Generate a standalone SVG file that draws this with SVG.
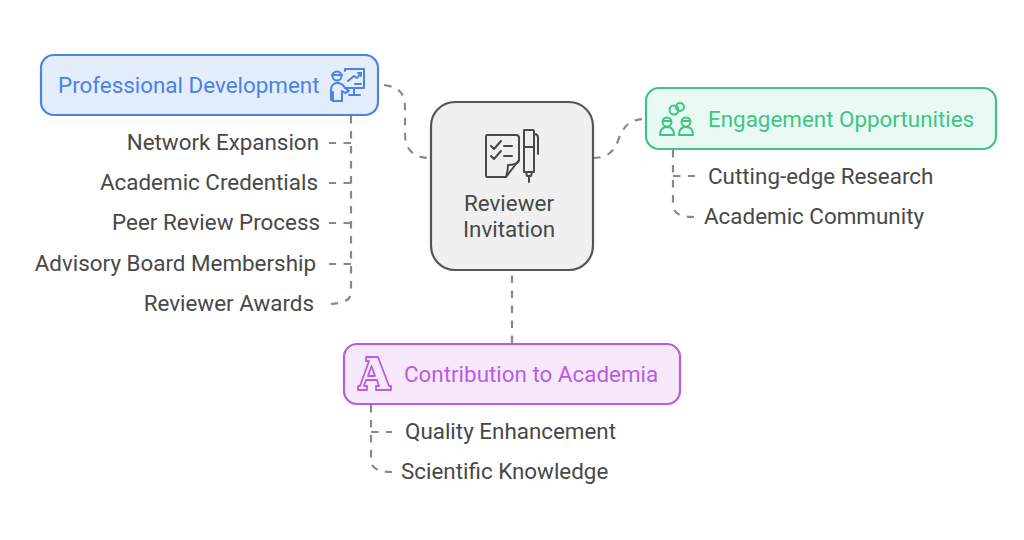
<svg xmlns="http://www.w3.org/2000/svg" width="1024" height="540" viewBox="0 0 1024 540">
<style>
text{font-family:Roboto,"Liberation Sans",sans-serif;font-size:22.4px}
.lab{fill:#484848}
.end{text-anchor:end}
.box{stroke-width:2.2}
.ic{fill:none;stroke-width:2;stroke-linecap:round;stroke-linejoin:round}
#connectors path{fill:none;stroke:#888;stroke-width:2.2;stroke-dasharray:7.5 7.5}
</style>
<rect width="1024" height="540" fill="#fff"/>
<g id="connectors">
<path d="M384 85C398 87 405 92 405 108V134C405 150 414 158 431 158"/>
<path d="M593 158C606 158 613 153 618 141C623 126 630 119 645 119"/>
<path d="M512 343V270"/>
<path d="M351 116V292C351 299 346 303 331 304"/>
<path d="M351 143H329"/>
<path d="M351 183H329"/>
<path d="M351 223H329"/>
<path d="M351 264H329"/>
<path d="M673 150V205C673 213 680 217 694 217"/>
<path d="M673 176H695"/>
<path d="M371 405V460C371 468 378 472 392 472"/>
<path d="M371 432H392"/>
</g>
<g id="node-professional">
<rect class="box" x="41" y="55" width="337" height="60" rx="13" fill="#e4edfc" stroke="#4a82e6"/>
<text x="58" y="93" fill="#4a82e6">Professional Development</text>
<g class="ic" stroke="#4a82e6">
<circle cx="337" cy="76" r="4.500"/><path d="M332 75H342"/>
<path d="M345 71V69H364V88H345"/><path d="M348 81L354 76L357 78L361 73M358 73H361V76"/><path d="M354 88V95M349 95H360M355 84H361"/>
<path d="M333 100H331V90C331 85 334 83 337 83C340 83 343 84 345 88L349 91L345 93L342 91V101H333V92"/>
</g>
</g>
<g id="node-center">
<rect class="box" x="431" y="102" width="162" height="168" rx="24" fill="#f0f0f0" stroke="#565656" stroke-width="2.6"/>
<text x="509" y="211" class="lab" text-anchor="middle">Reviewer</text>
<text x="509" y="237" class="lab" text-anchor="middle">Invitation</text>
<g class="ic" stroke="#484848">
<path d="M487 135H516C518 135 519 136 519 138V160L506 177H487C486 177 486 176 486 175V137C486 136 486 135 487 135Z"/>
<path d="M519 160C519 164 512 165 508 165C508 170 507 174 506 177"/>
<path d="M491 146L494 149L501 141M491 156L494 159L501 151M504 146H512M504 156H512"/>
<path d="M524 130H533C534 130 534 131 534 132V172H524V132C524 131 524 130 524 130ZM524 147H534M534 134C537 134 538 135 538 138V154"/>
<path d="M526 172L527 176H531L532 172M529 176V182"/>
</g>
</g>
<g id="node-engagement">
<rect class="box" x="646" y="88" width="350" height="61" rx="13" fill="#e8faf3" stroke="#3cc683"/>
<text x="708" y="127" fill="#3cc683">Engagement Opportunities</text>
<g class="ic" stroke="#3cc683">
<circle cx="674" cy="110" r="4.500"/><circle cx="680" cy="107" r="4"/>
<circle cx="667" cy="122" r="4.500"/><path d="M660 135C660 129 663 127 667 127C671 127 674 129 674 135Z"/>
<circle cx="686" cy="122" r="4.500"/><path d="M679 135C679 129 682 127 686 127C690 127 693 129 693 135Z"/>
<path d="M663 121H671M682 121H690"/>
</g>
</g>
<g id="node-contribution">
<rect class="box" x="344" y="344" width="336" height="60" rx="13" fill="#f8e8fc" stroke="#b95ce3"/>
<text x="404" y="382" fill="#b95ce3">Contribution to Academia</text>
<g fill="none" stroke="#b95ce3" stroke-width="1.8" stroke-linejoin="round">
<path d="M366 357H378L389 386H391V390H376V386H379L377 380H366L364 386H367V390H358V386H360L369 361H366Z"/>
<path d="M371.500 366L375 376H368Z"/>
</g>
</g>
<g id="items-professional">
<text x="319" y="150" class="lab end">Network Expansion</text>
<text x="318" y="190" class="lab end">Academic Credentials</text>
<text x="320" y="230" class="lab end">Peer Review Process</text>
<text x="316" y="270.500" class="lab end">Advisory Board Membership</text>
<text x="314" y="311" class="lab end">Reviewer Awards</text>
</g>
<g id="items-engagement">
<text x="708" y="183.500" class="lab">Cutting-edge Research</text>
<text x="704" y="224" class="lab">Academic Community</text>
</g>
<g id="items-contribution">
<text x="405" y="439" class="lab">Quality Enhancement</text>
<text x="401" y="479" class="lab">Scientific Knowledge</text>
</g>
</svg>
